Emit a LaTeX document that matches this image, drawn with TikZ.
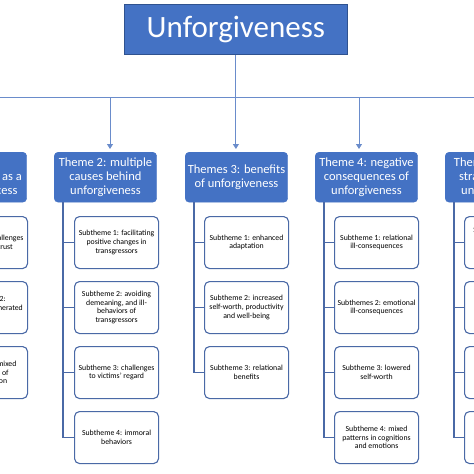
\documentclass[tikz,border=0pt]{standalone}
\usepackage{fontspec}
\setmainfont{Carlito}
\usetikzlibrary{arrows.meta}
\definecolor{myblue}{HTML}{4472C4}
\definecolor{mydark}{HTML}{2F528F}
\definecolor{subline}{HTML}{4A69A6}
\definecolor{connline}{HTML}{6A8CCB}
\tikzset{
  titlebox/.style={draw=mydark, line width=0.8pt, fill=myblue, text=white, minimum width=223pt, minimum height=50pt, inner sep=0pt, font=\fontsize{31}{36}\selectfont, anchor=north west},
  themebox/.style={draw=myblue, fill=myblue, text=white, rounded corners=4pt, minimum width=102.5pt, minimum height=50pt, inner sep=0pt, align=center, font=\fontsize{12.5}{14.2}\selectfont, anchor=north west},
  subbox/.style={draw=subline, line width=1.1pt, fill=white, text=black, rounded corners=5pt, minimum width=84pt, minimum height=52pt, inner sep=0pt, align=center, font=\fontsize{7.8}{8.6}\selectfont, anchor=north west},
  conn/.style={draw=connline, line width=0.9pt},
  arr/.style={conn, -{Triangle[length=5pt,width=6pt]}, shorten >=3pt},
  spine/.style={draw=subline, line width=1.6pt},
}
\begin{document}
\begin{tikzpicture}[x=1pt,y=-1pt]
\fill[white] (0,0) rectangle (474,474);
\useasboundingbox (0,0) rectangle (474,474);
\clip (0,0) rectangle (474,474);

% title
\node[titlebox] (title) at (124,4) {Unforgiveness};

% themes
\node[themebox] (t1) at (-76,152) {Theme 1:\\unforgiveness as a\\complex process};
\node[themebox] (t2) at (54,152) {Theme 2: multiple\\causes behind\\unforgiveness};
\node[themebox] (t3) at (185,152) {Themes 3: benefits\\of unforgiveness};
\node[themebox] (t4) at (315,152) {Theme 4: negative\\consequences of\\unforgiveness};
\node[themebox] (t5) at (445,152) {Theme 5: coping\\strategies with\\unforgiveness};

% subthemes theme 1
\node[subbox] (s11) at (-57,216) {Subtheme 1: challenges\\in relational trust};
\node[subbox] (s12) at (-57,281) {Subtheme 2:\\repeatedly regenerated\\hurt};
\node[subbox] (s13) at (-57,346) {Subtheme 3: mixed\\experiences of\\confrontation};

% subthemes theme 2
\node[subbox] (s21) at (74,216) {Subtheme 1: facilitating\\positive changes in\\transgressors};
\node[subbox] (s22) at (74,281) {Subtheme 2: avoiding\\demeaning, and ill-\\behaviors of\\transgressors};
\node[subbox] (s23) at (74,346) {Subtheme 3: challenges\\to victims' regard};
\node[subbox] (s24) at (74,411) {Subtheme 4: immoral\\behaviors};

% subthemes theme 3
\node[subbox] (s31) at (204,216) {Subtheme 1: enhanced\\adaptation};
\node[subbox] (s32) at (204,281) {Subtheme 2: increased\\self-worth, productivity\\and well-being};
\node[subbox] (s33) at (204,346) {Subtheme 3: relational\\benefits};

% subthemes theme 4
\node[subbox] (s41) at (334,216) {Subtheme 1: relational\\ill-consequences};
\node[subbox] (s42) at (334,281) {Subthemes 2: emotional\\ill-consequences};
\node[subbox] (s43) at (334,346) {Subtheme 3: lowered\\self-worth};
\node[subbox] (s44) at (334,411) {Subtheme 4: mixed\\patterns in cognitions\\and emotions};

% subthemes theme 5
\node[subbox] (s51) at (464,216) {Subtheme 1: seeking\\support from\\others and\\distraction};
\node[subbox] (s52) at (464,281) {Subtheme 2:\\avoidance};
\node[subbox] (s53) at (464,346) {Subtheme 3:\\rumination};
\node[subbox] (s54) at (464,411) {Subtheme 4:\\revenge};

% top connectors
\coordinate (hl) at (-20,97);
\coordinate (hr) at (500,97);
\coordinate (a1) at (-15,97);
\coordinate (a2) at (110,97);
\coordinate (a4) at (359,97);
\coordinate (a5) at (484,97);
\draw[conn] (hl) -- (hr);
\draw[arr] (title.south) -- (title.south |- t3.north);
\draw[arr] (a1) -- (a1 |- t1.north);
\draw[arr] (a2) -- (a2 |- t2.north);
\draw[arr] (a4) -- (a4 |- t4.north);
\draw[arr] (a5) -- (a5 |- t5.north);

% spines
\foreach \t/\last in {1/3,2/4,3/3,4/4,5/4}{
  \coordinate (sp\t) at ([xshift=9pt]t\t.south west);
  \draw[spine] (sp\t) -- (sp\t |- s\t\last.west);
  \foreach \k in {1,...,\last}{
    \draw[spine] (sp\t |- s\t\k.west) -- (s\t\k.west);
  }
}
\end{tikzpicture}
\end{document}
